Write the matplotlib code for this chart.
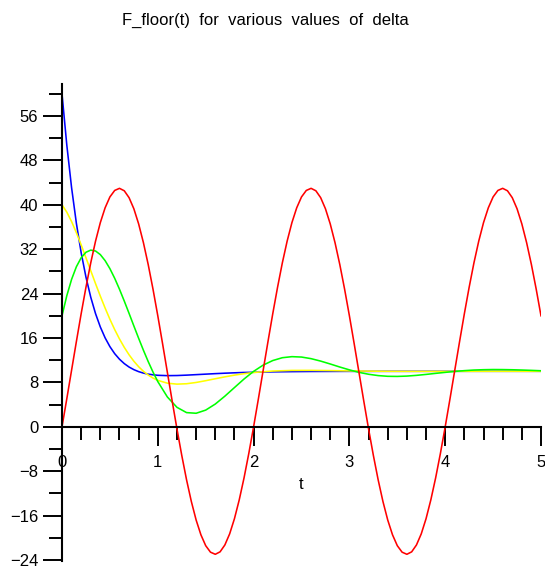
import matplotlib
matplotlib.use("Agg")
import matplotlib.pyplot as plt
from matplotlib.ticker import MultipleLocator

plt.rcParams['font.family'] = ['Liberation Sans', 'DejaVu Sans']

# ---- data ----
t_red = [0.00, 0.05, 0.10, 0.15, 0.20, 0.25, 0.30, 0.35, 0.40, 0.45,
         0.50, 0.55, 0.60, 0.65, 0.70, 0.75, 0.80, 0.85, 0.90, 0.95,
         1.00, 1.05, 1.10, 1.15, 1.20, 1.25, 1.30, 1.35, 1.40, 1.45,
         1.50, 1.55, 1.60, 1.65, 1.70, 1.75, 1.80, 1.85, 1.90, 1.95,
         2.00, 2.05, 2.10, 2.15, 2.20, 2.25, 2.30, 2.35, 2.40, 2.45,
         2.50, 2.55, 2.60, 2.65, 2.70, 2.75, 2.80, 2.85, 2.90, 2.95,
         3.00, 3.05, 3.10, 3.15, 3.20, 3.25, 3.30, 3.35, 3.40, 3.45,
         3.50, 3.55, 3.60, 3.65, 3.70, 3.75, 3.80, 3.85, 3.90, 3.95,
         4.00, 4.05, 4.10, 4.15, 4.20, 4.25, 4.30, 4.35, 4.40, 4.45,
         4.50, 4.55, 4.60, 4.65, 4.70, 4.75, 4.80, 4.85, 4.90, 4.95,
         5.00]
f_red = [0.00, 5.04, 10.20, 15.35, 20.38, 25.14, 29.54, 33.45, 36.79, 39.46,
         41.42, 42.59, 42.97, 42.53, 41.29, 39.29, 36.56, 33.17, 29.22, 24.79,
         20.00, 14.96, 9.80, 4.65, -0.38, -5.14, -9.54, -13.45, -16.79, -19.46,
         -21.42, -22.59, -22.97, -22.53, -21.29, -19.29, -16.56, -13.17, -9.22, -4.79,
         0.00, 5.04, 10.20, 15.35, 20.38, 25.14, 29.54, 33.45, 36.79, 39.46,
         41.42, 42.59, 42.97, 42.53, 41.29, 39.29, 36.56, 33.17, 29.22, 24.79,
         20.00, 14.96, 9.80, 4.65, -0.38, -5.14, -9.54, -13.45, -16.79, -19.46,
         -21.42, -22.59, -22.97, -22.53, -21.29, -19.29, -16.56, -13.17, -9.22, -4.79,
         0.00, 5.04, 10.20, 15.35, 20.38, 25.14, 29.54, 33.45, 36.79, 39.46,
         41.42, 42.59, 42.97, 42.53, 41.29, 39.29, 36.56, 33.17, 29.22, 24.79,
         20.00]

t_green = [0.00, 0.05, 0.10, 0.15, 0.20, 0.25, 0.30, 0.35, 0.40, 0.45,
           0.50, 0.55, 0.60, 0.65, 0.70, 0.75, 0.80, 0.85, 0.90, 0.95,
           1.00, 1.10, 1.20, 1.30, 1.40, 1.50, 1.60, 1.70, 1.80, 1.90,
           2.00, 2.10, 2.20, 2.30, 2.40, 2.50, 2.60, 2.70, 2.80, 2.90,
           3.00, 3.10, 3.20, 3.30, 3.40, 3.50, 3.60, 3.70, 3.80, 3.90,
           4.00, 4.10, 4.20, 4.30, 4.40, 4.50, 4.60, 4.70, 4.80, 4.90,
           5.00]
f_green = [20.00, 23.61, 26.56, 28.84, 30.46, 31.45, 31.84, 31.68, 31.03, 29.94,
           28.50, 26.76, 24.79, 22.66, 20.44, 18.18, 15.95, 13.79, 11.75, 9.86,
           8.15, 5.37, 3.51, 2.56, 2.44, 3.01, 4.10, 5.52, 7.07, 8.61,
           9.99, 11.12, 11.94, 12.45, 12.64, 12.57, 12.28, 11.84, 11.32, 10.77,
           10.26, 9.81, 9.47, 9.23, 9.10, 9.08, 9.14, 9.27, 9.44, 9.63,
           9.81, 9.98, 10.12, 10.23, 10.29, 10.32, 10.31, 10.28, 10.23, 10.17,
           10.10]

t_damped = [0.00, 0.05, 0.10, 0.15, 0.20, 0.25, 0.30, 0.35, 0.40, 0.45,
            0.50, 0.55, 0.60, 0.65, 0.70, 0.75, 0.80, 0.85, 0.90, 0.95,
            1.00, 1.10, 1.20, 1.30, 1.40, 1.50, 1.60, 1.70, 1.80, 1.90,
            2.00, 2.20, 2.40, 2.60, 2.80, 3.00, 3.20, 3.40, 3.60, 3.80,
            4.00, 4.20, 4.40, 4.60, 4.80, 5.00]
f_yellow = [40.00, 38.69, 36.98, 34.98, 32.78, 30.47, 28.13, 25.80, 23.55, 21.40,
            19.38, 17.52, 15.83, 14.32, 12.98, 11.82, 10.83, 10.00, 9.33, 8.78,
            8.37, 7.86, 7.69, 7.76, 7.99, 8.31, 8.66, 9.00, 9.31, 9.57,
            9.78, 10.05, 10.16, 10.17, 10.13, 10.07, 10.03, 10.00, 9.99, 9.99,
            9.99, 10.00, 10.00, 10.00, 10.00, 10.00]
f_blue = [60.00, 50.79, 43.09, 36.68, 31.37, 26.98, 23.36, 20.40, 17.99, 16.03,
          14.45, 13.18, 12.18, 11.39, 10.77, 10.30, 9.94, 9.68, 9.49, 9.37,
          9.28, 9.22, 9.24, 9.31, 9.40, 9.49, 9.58, 9.66, 9.73, 9.79,
          9.83, 9.90, 9.94, 9.97, 9.98, 9.99, 9.99, 10.00, 10.00, 10.00,
          10.00, 10.00, 10.00, 10.00, 10.00, 10.00]

title_text = "F_floor(t)  for  various  values  of  delta"
x_label = "t"

# ---- figure ----
W, H = 545, 568
fig = plt.figure(figsize=(W / 100, H / 100), dpi=100)
ax = fig.add_axes([62 / W, 7 / H, 479 / W, 477 / H])
ax.set_xlim(0, 5)
ax.set_ylim(-24.18, 61.77)

lw = 1.15
ax.plot(t_damped, f_blue, color=(0, 0, 1), lw=lw)
ax.plot(t_damped, f_yellow, color=(1, 1, 0), lw=lw)
ax.plot(t_green, f_green, color=(0, 1, 0), lw=lw)
ax.plot(t_red, f_red, color=(1, 0, 0), lw=lw)

for s in ("top", "right"):
    ax.spines[s].set_visible(False)
ax.spines["left"].set_position(("data", 0))
ax.spines["bottom"].set_position(("data", 0))
for s in ("left", "bottom"):
    ax.spines[s].set_linewidth(1.5)
    ax.spines[s].set_color("black")

ax.xaxis.set_major_locator(MultipleLocator(1))
ax.xaxis.set_minor_locator(MultipleLocator(0.2))
ax.yaxis.set_major_locator(MultipleLocator(8))
ax.yaxis.set_minor_locator(MultipleLocator(4))

ax.tick_params(which="major", direction="out", length=13.5, width=1.4, labelsize=12)
ax.tick_params(which="minor", direction="out", length=9.5, width=1.4)
ax.tick_params(axis="x", which="major", pad=7)
ax.tick_params(axis="y", which="major", pad=3.5)

ax.text(2.5, -10.4, x_label, ha="center", va="center", fontsize=12)
fig.text(265 / W, 1 - 20 / H, title_text, ha="center", va="center", fontsize=12)

fig.savefig("out.png", dpi=100)
